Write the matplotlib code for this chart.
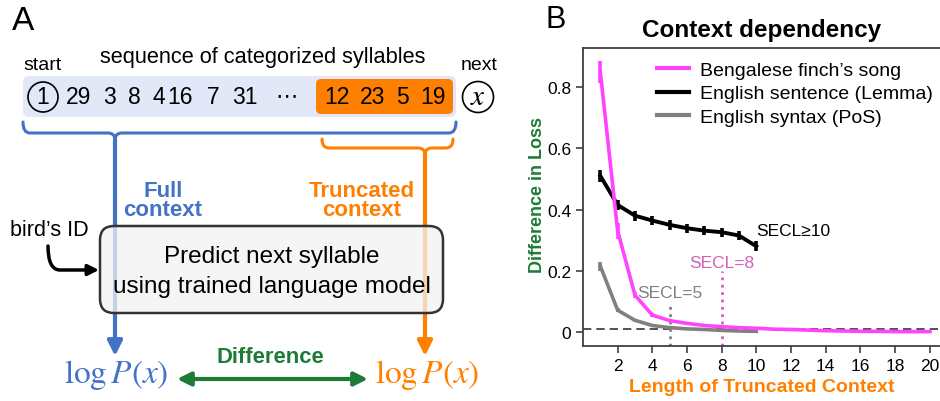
import numpy as np
import matplotlib
matplotlib.use("Agg")
import matplotlib.pyplot as plt
from matplotlib.patches import Circle, FancyBboxPatch, FancyArrowPatch, PathPatch
from matplotlib.path import Path

plt.rcParams['font.family'] = ['Liberation Sans', 'DejaVu Sans']
plt.rcParams['mathtext.fontset'] = 'stix'

# ---- panel B data ----
finch_x = [1, 2, 3, 4, 5, 6, 7, 8, 9, 10, 11, 12, 13, 14, 15, 16, 17, 18, 19, 20]
finch = [0.85, 0.33, 0.12, 0.055, 0.037, 0.028, 0.021, 0.017, 0.014, 0.012,
         0.009, 0.008, 0.006, 0.004, 0.003, 0.002, 0.002, 0.001, 0.001, 0.001]
finch_err = [0.035, 0.025, 0.01, 0.006, 0.005, 0.004, 0.004, 0.004, 0.004, 0.004,
             0.003, 0.003, 0.003, 0.003, 0.003, 0.003, 0.003, 0.003, 0.003, 0.003]

lemma_x = [1, 2, 3, 4, 5, 6, 7, 8, 9, 10]
lemma = [0.51, 0.415, 0.38, 0.364, 0.35, 0.339, 0.331, 0.326, 0.315, 0.28]
lemma_err = [0.02, 0.016, 0.016, 0.016, 0.016, 0.015, 0.015, 0.015, 0.016, 0.016]

pos_x = [1, 2, 3, 4, 5, 6, 7, 8, 9, 10]
pos = [0.215, 0.071, 0.038, 0.021, 0.014, 0.01, 0.008, 0.005, 0.003, 0.002]
pos_err = [0.015, 0.006, 0.004, 0.003, 0.003, 0.002, 0.002, 0.002, 0.002, 0.002]

series_names = ["Bengalese finch\u2019s song", "English sentence (Lemma)", "English syntax (PoS)"]
secl_pos, secl_finch, secl_lemma = 5, 8, 10

# ---- panel A labels ----
syllables = ["29", "3", "8", "4", "16", "7", "31"]
truncated = ["12", "23", "5", "19"]

BLUE = '#4472c4'
ORANGE = '#ff8000'
GREEN = '#1e7b36'
PINK = '#ff44ff'
ORCHID = '#d35fb7'

fig = plt.figure(figsize=(9.4, 4.02), dpi=100)

# ================= panel A: diagram in pixel coordinates =================
axA = fig.add_axes([0, 0, 540 / 940, 1])
axA.set_xlim(0, 540)
axA.set_ylim(402, 0)
axA.axis('off')

axA.text(12, 22, "A", fontsize=24, va='center', ha='left')
axA.text(23, 65, "start", fontsize=14, va='center', ha='left')
axA.text(263, 57, "sequence of categorized syllables", fontsize=15.7, va='center', ha='center')
axA.text(461, 65, "next", fontsize=14, va='center', ha='left')

seq_box = FancyBboxPatch((23, 77), 433, 41, boxstyle="round,pad=0,rounding_size=6",
                         fc='#e2e8f8', ec='none')
axA.add_patch(seq_box)
trunc_box = FancyBboxPatch((316, 80), 137, 35, boxstyle="round,pad=0,rounding_size=5",
                           fc=ORANGE, ec='none')
axA.add_patch(trunc_box)

axA.add_patch(Circle((43, 98), 15, fc='none', ec='black', lw=1.2))
axA.text(43, 98, "1", fontsize=16.5, va='center', ha='center')
for s, xp in zip(syllables, [79, 109, 134, 159, 180, 213, 245]):
    axA.text(xp, 98, s, fontsize=16.5, va='center', ha='center')
axA.text(287, 96, "\u22ef", fontsize=16, va='center', ha='center', family=['DejaVu Sans'])
for s, xp in zip(truncated, [337, 373, 402, 433]):
    axA.text(xp, 98, s, fontsize=16.5, va='center', ha='center')

axA.add_patch(Circle((478, 98), 15.5, fc='none', ec='black', lw=1.2))
axA.text(478, 97, r"$x$", fontsize=21, va='center', ha='center')


def bracket(x0, x1, xm, ytop, ybot, color, r=7):
    verts = [(x0, ytop), (x0, ybot), (x0 + r, ybot), (xm - r, ybot), (xm, ybot), (xm, ybot + r),
             (x1, ytop), (x1, ybot), (x1 - r, ybot), (xm + r, ybot), (xm, ybot), (xm, ybot + r)]
    codes = [Path.MOVETO, Path.CURVE3, Path.CURVE3, Path.LINETO, Path.CURVE3, Path.CURVE3] * 2
    axA.add_patch(PathPatch(Path(verts, codes), fc='none', ec=color, lw=2.2, capstyle='round'))
    axA.annotate("", xy=(xm, 357), xytext=(xm, ybot + r),
                 arrowprops=dict(arrowstyle='-|>', color=color, lw=3, mutation_scale=22,
                                 shrinkA=0, shrinkB=0))


bracket(23, 456, 115, 123, 134, BLUE)
bracket(322, 453, 425, 140, 149, ORANGE)

axA.text(163, 201, "Full\ncontext", fontsize=16, fontweight='bold', color=BLUE,
         va='center', ha='center', linespacing=0.9)
axA.text(362, 201, "Truncated\ncontext", fontsize=16, fontweight='bold', color=ORANGE,
         va='center', ha='center', linespacing=0.9)

model_box = FancyBboxPatch((100, 227), 343, 87, boxstyle="round,pad=0,rounding_size=14",
                           fc=(0.95, 0.95, 0.95, 0.75), ec='#333333', lw=1.8, zorder=3)
axA.add_patch(model_box)
axA.text(272, 257, "Predict next syllable", fontsize=17.5, va='center', ha='center', zorder=4)
axA.text(272, 287, "using trained language model", fontsize=17.5, va='center', ha='center', zorder=4)

axA.text(10, 231, "bird\u2019s ID", fontsize=15.5, va='center', ha='left')
bend = Path([(48, 247), (48, 271), (60, 271), (99, 271)],
            [Path.MOVETO, Path.CURVE3, Path.CURVE3, Path.LINETO])
axA.add_patch(FancyArrowPatch(path=bend, arrowstyle='-|>', mutation_scale=16, lw=2.5,
                              color='black'))

axA.text(116, 375, r"$\log P(x)$", fontsize=24, color=BLUE, va='center', ha='center')
axA.text(427, 375, r"$\log P(x)$", fontsize=24, color=ORANGE, va='center', ha='center')
axA.text(270, 358, "Difference", fontsize=15.8, fontweight='bold', color=GREEN,
         va='center', ha='center')
axA.annotate("", xy=(368, 380), xytext=(177, 380),
             arrowprops=dict(arrowstyle='<|-|>', color=GREEN, lw=3, mutation_scale=20,
                             shrinkA=0, shrinkB=0))

# ================= panel B: line chart =================
axB = fig.add_axes([583 / 940, (402 - 347) / 402, 357 / 940, (347 - 49) / 402])
fig.text(545 / 940, 1 - 20 / 402, "B", fontsize=22, va='center', ha='left')

axB.axhline(0.01, color='#333333', ls=(0, (5, 3)), lw=1.2, zorder=1)
axB.vlines(secl_pos, -0.046, 0.09, colors='gray', linestyles=':', lw=2, zorder=1)
axB.vlines(secl_finch, -0.046, 0.2, colors=ORCHID, linestyles=':', lw=2, zorder=1)

axB.errorbar(pos_x, pos, yerr=pos_err, color='#808080', lw=2.6, elinewidth=2.6,
             capsize=0, label=series_names[2], zorder=2)
axB.errorbar(lemma_x, lemma, yerr=lemma_err, color='black', lw=2.8, elinewidth=2.6,
             capsize=0, label=series_names[1], zorder=3)
axB.errorbar(finch_x, finch, yerr=finch_err, color=PINK, lw=2.6, elinewidth=2.6,
             capsize=0, label=series_names[0], zorder=4)

axB.text(secl_pos, 0.13, "SECL=5", fontsize=12.5, color='gray', ha='center', va='center')
axB.text(secl_finch, 0.228, "SECL=8", fontsize=12.5, color=ORCHID, ha='center', va='center')
axB.text(secl_lemma, 0.333, "SECL\u226510", fontsize=12.5, color='black', ha='left', va='center')

axB.set_xlim(0, 20.6)
axB.set_ylim(-0.046, 0.928)
axB.set_xticks([2, 4, 6, 8, 10, 12, 14, 16, 18, 20])
axB.set_yticks([0, 0.2, 0.4, 0.6, 0.8])
axB.set_yticklabels(["0", "0.2", "0.4", "0.6", "0.8"])
axB.tick_params(labelsize=12.5, length=5, width=1.2, color='#404040')
for side in ['left', 'bottom', 'top']:
    axB.spines[side].set_color('#404040')
    axB.spines[side].set_linewidth(1.3)
axB.spines['right'].set_visible(False)

axB.set_title("Context dependency", fontsize=17.5, fontweight='bold', pad=9)
axB.set_xlabel("Length of Truncated Context", fontsize=14, fontweight='bold', color=ORANGE)
axB.set_ylabel("Difference in Loss", fontsize=13, fontweight='bold', color=GREEN)
axB.yaxis.set_label_coords(-0.105, 0.51)

handles, labels = axB.get_legend_handles_labels()
order = [2, 1, 0]
leg = axB.legend([handles[i][0] for i in order], [labels[i] for i in order],
                 loc='upper left', bbox_to_anchor=(0.208, 0.955), frameon=False,
                 fontsize=14, handlelength=1.65, handletextpad=0.55,
                 borderpad=0, borderaxespad=0, labelspacing=0.3)
for ln in leg.get_lines():
    ln.set_linewidth(3)

fig.savefig("out.png", dpi=100)
